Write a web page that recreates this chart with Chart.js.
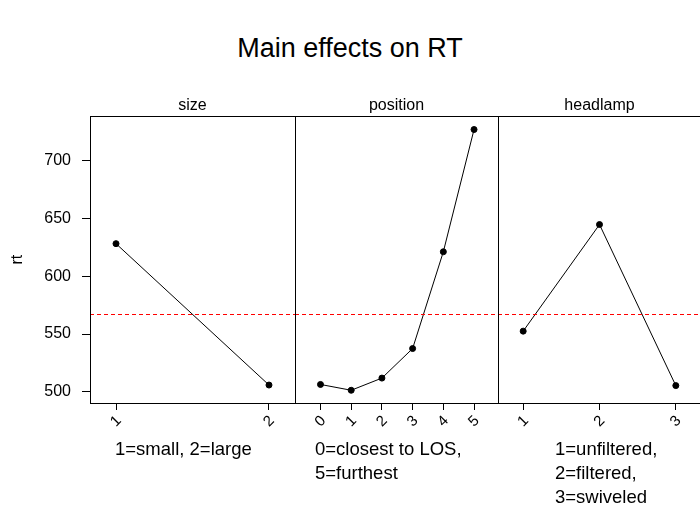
<!DOCTYPE html>
<html>
<head>
<meta charset="utf-8">
<script src="https://cdn.jsdelivr.net/npm/chart.js@4.4.0/dist/chart.umd.min.js"></script>
<style>
html, body { margin: 0; padding: 0; background: #fff; overflow: hidden; }
#wrap { position: relative; width: 700px; height: 510px; overflow: hidden; }
#title { position: absolute; left: 0; top: 30px; width: 700px; text-align: center;
  font: 27px "Liberation Sans", Arial, sans-serif; line-height: 36px; color: #000; }
canvas { position: absolute; top: 0; }
</style>
</head>
<body>
<div id="wrap">
  <div id="title">Main effects on RT</div>
  <canvas id="c1" width="296" height="510" style="left:0px"></canvas>
  <canvas id="c2" width="204" height="510" style="left:295px"></canvas>
  <canvas id="c3" width="205" height="510" style="left:498px"></canvas>
</div>
<script>
// data
var sizeLevels = [1, 2];
var sizeRT = [628, 506];
var positionLevels = [0, 1, 2, 3, 4, 5];
var positionRT = [506.5, 501.5, 512, 537.5, 621, 726.5];
var headlampLevels = [1, 2, 3];
var headlampRT = [552.5, 644.5, 505.5];
var meanRT = 567;
var rtTicks = [500, 550, 600, 650, 700];

var sizeNotes = ['1=small, 2=large'];
var positionNotes = ['0=closest to LOS,', '5=furthest'];
var headlampNotes = ['1=unfiltered,', '2=filtered,', '3=swiveled'];

var FONT = '"Liberation Sans", Arial, sans-serif';

// panel box, red mean line, and the notes under each panel
var panelPlugin = {
  id: 'panel',
  afterDatasetsDraw: function (chart, args, opts) {
    var ctx = chart.ctx, a = chart.chartArea;
    var y = Math.round(chart.scales.y.getPixelForValue(meanRT)) + 0.5;
    ctx.save();
    ctx.strokeStyle = '#ff0000';
    ctx.lineWidth = 1;
    ctx.setLineDash([4, 3]);
    ctx.beginPath();
    ctx.moveTo(a.left, y);
    ctx.lineTo(a.right, y);
    ctx.stroke();
    ctx.setLineDash([]);
    ctx.strokeStyle = '#000';
    var l = Math.round(a.left) + 0.5, r = Math.round(a.right) + 0.5;
    var t = Math.round(a.top) + 0.5, b = Math.round(a.bottom) + 0.5;
    ctx.strokeRect(l, t, r - l, b - t);
    ctx.fillStyle = '#000';
    ctx.font = '18.5px ' + FONT;
    ctx.textAlign = 'left';
    ctx.textBaseline = 'middle';
    opts.notes.forEach(function (line, i) {
      ctx.fillText(line, a.left + opts.noteX, 450 + i * 24);
    });
    ctx.restore();
  }
};

function makePanel(id, name, levels, values, xmin, xmax, notes, noteX, showY, padRight) {
  return new Chart(document.getElementById(id), {
    type: 'line',
    data: {
      datasets: [{
        data: levels.map(function (v, i) { return { x: v, y: values[i] }; }),
        borderColor: '#000',
        borderWidth: 1,
        pointBackgroundColor: '#000',
        pointBorderColor: '#000',
        pointBorderWidth: 1,
        pointRadius: 3,
        tension: 0,
        clip: false
      }]
    },
    options: {
      responsive: false,
      animation: false,
      events: [],
      layout: { autoPadding: false, padding: { top: 96, bottom: 0, left: 0, right: padRight } },
      plugins: {
        legend: { display: false },
        tooltip: { enabled: false },
        title: {
          display: true,
          text: name,
          fullSize: false,
          color: '#000',
          font: { family: FONT, size: 16, weight: 'normal' },
          padding: { top: 0, bottom: 1 }
        },
        panel: { notes: notes, noteX: noteX }
      },
      scales: {
        x: {
          type: 'linear',
          min: xmin,
          max: xmax,
          afterBuildTicks: function (s) { s.ticks = levels.map(function (v) { return { value: v }; }); },
          afterFit: function (s) { s.height = 107; s.paddingLeft = 0; s.paddingRight = 0; },
          border: { display: false },
          grid: { drawOnChartArea: false, drawTicks: true, tickLength: 7, color: '#000' },
          ticks: {
            minRotation: 45, maxRotation: 45, padding: 2, labelOffset: 3,
            color: '#000', font: { family: FONT, size: 15 },
            callback: function (v) { return String(v); }
          }
        },
        y: {
          display: showY,
          min: 490.5,
          max: 738,
          afterBuildTicks: function (s) { s.ticks = rtTicks.map(function (v) { return { value: v }; }); },
          afterFit: function (s) { if (showY) s.width = 90; },
          border: { display: false },
          grid: { drawOnChartArea: false, drawTicks: true, tickLength: 8, color: '#000' },
          ticks: { padding: 11, color: '#000', font: { family: FONT, size: 16 } },
          title: {
            display: true, text: 'rt', color: '#000',
            font: { family: FONT, size: 16 }, padding: { top: 8, bottom: 0 }
          }
        }
      }
    },
    plugins: [panelPlugin]
  });
}

makePanel('c1', 'size', sizeLevels, sizeRT, 0.83, 2.17, sizeNotes, 25, true, 1);
makePanel('c2', 'position', positionLevels, positionRT, -0.83, 5.78, positionNotes, 20, false, 1);
makePanel('c3', 'headlamp', headlampLevels, headlampRT, 0.67, 3.33, headlampNotes, 57, false, 2);
</script>
</body>
</html>
